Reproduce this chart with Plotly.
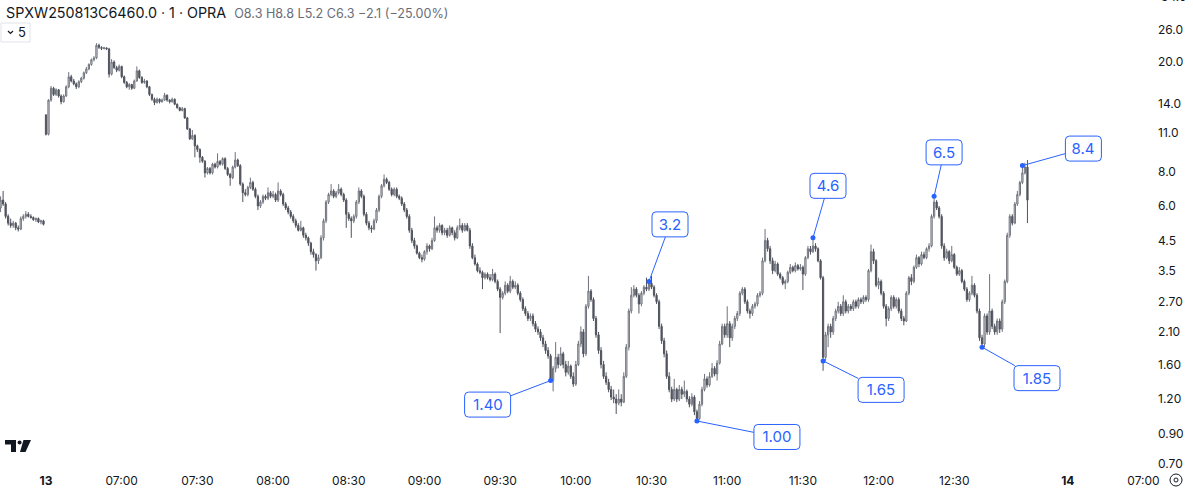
import math
import plotly.graph_objects as go

# ---------------- data (1-minute bars, index 0 = 06:30 on the 13th) ----------------
bar_index = list(range(-18, 390))

open_ = [
    5.9, 6.3, 6.1, 5.5, 5.2, 5.1, 5.2, 5.0, 4.95, 5.4, 5.5, 5.6, 5.5, 5.45, 5.35, 5.4, 5.25, 5.3,
    12.8, 10.9, 14.5, 16.0, 15.2, 15.8, 15.0, 14.3, 15.0, 16.2,
    17.6, 17.0, 16.6, 16.2, 16.9, 17.4, 18.2, 18.8, 19.5, 20.3,
    20.6, 22.9, 22.5, 22.3, 22.4, 22.2, 18.0, 19.9, 19.0, 18.6,
    19.2, 17.6, 16.8, 16.2, 16.5, 16.0, 17.0, 18.5, 17.5, 16.8,
    17.0, 16.2, 15.2, 14.6, 14.2, 14.6, 14.3, 14.5, 15.1, 14.5,
    14.3, 14.6, 14.0, 13.6, 13.3, 13.5, 12.5, 11.4, 10.5, 10.8,
    9.9, 9.6, 9.0, 8.7, 7.9, 8.2, 7.9, 8.5, 8.3, 8.7,
    8.5, 8.9, 8.2, 7.8, 7.6, 8.3, 8.8, 8.4, 7.2, 6.7,
    6.6, 7.0, 7.3, 6.9, 6.5, 6.0, 6.2, 6.5, 6.4, 6.7,
    6.5, 6.6, 6.3, 6.8, 6.6, 6.1, 5.9, 5.7, 5.5, 5.3,
    5.1, 4.9, 5.0, 4.7, 4.6, 4.4, 4.1, 4.0, 3.8, 3.9,
    4.6, 5.3, 6.2, 6.6, 6.8, 6.5, 6.7, 6.9, 6.6, 6.3,
    5.6, 5.4, 5.3, 5.5, 6.2, 6.8, 6.5, 5.6, 5.2, 5.0,
    4.95, 5.3, 5.8, 6.5, 7.1, 7.5, 7.3, 6.9, 6.6, 6.9,
    6.5, 6.4, 6.1, 5.8, 5.5, 4.9, 4.5, 4.3, 4.05, 3.9,
    3.85, 4.1, 4.3, 4.2, 4.5, 5.0, 4.9, 5.1, 4.8, 4.9,
    4.7, 5.0, 4.8, 4.6, 5.0, 5.1, 4.9, 5.1, 4.9, 4.3,
    3.9, 3.7, 3.5, 3.45, 3.3, 3.4, 3.3, 3.25, 3.4, 3.2,
    3.0, 2.8, 2.9, 3.1, 2.95, 3.2, 3.05, 3.1, 2.9, 2.75,
    2.55, 2.45, 2.35, 2.4, 2.25, 2.15, 2.1, 2.0, 1.9, 1.8,
    1.72, 1.4, 1.55, 1.7, 1.6, 1.75, 1.6, 1.5, 1.58, 1.45,
    1.36, 1.6, 1.9, 2.1, 1.75, 2.6, 2.95, 2.75, 2.35, 2.05,
    1.8, 1.6, 1.45, 1.38, 1.3, 1.22, 1.2, 1.16, 1.2, 1.17,
    1.45, 1.85, 2.5, 2.85, 3.0, 2.85, 2.65, 2.9, 3.05, 3.0,
    3.15, 3.05, 2.85, 2.7, 2.2, 1.95, 1.75, 1.45, 1.3, 1.2,
    1.3, 1.2, 1.3, 1.25, 1.28, 1.2, 1.15, 1.22, 1.08, 1.02,
    1.15, 1.3, 1.42, 1.35, 1.45, 1.55, 1.48, 1.62, 1.9, 2.2,
    2.05, 2.25, 2.0, 2.2, 2.35, 2.45, 2.9, 3.0, 2.7, 2.5,
    2.45, 2.6, 2.65, 2.85, 2.9, 3.8, 4.5, 4.2, 3.8, 3.5,
    3.7, 3.4, 3.3, 3.15, 3.2, 3.45, 3.6, 3.5, 3.65, 3.55,
    3.6, 3.4, 3.9, 4.2, 4.1, 4.3, 4.2, 3.8, 3.3, 1.7,
    2.05, 2.2, 2.1, 2.35, 2.5, 2.6, 2.45, 2.7, 2.5, 2.6,
    2.55, 2.7, 2.6, 2.75, 2.7, 2.8, 2.75, 3.5, 4.1, 3.8,
    3.1, 3.2, 2.9, 2.6, 2.35, 2.55, 2.8, 2.6, 2.75, 2.5,
    2.35, 2.3, 2.9, 3.3, 3.2, 3.6, 3.9, 3.7, 4.0, 3.9,
    4.2, 4.3, 5.5, 6.2, 5.9, 5.5, 4.3, 3.9, 4.1, 3.8,
    4.0, 3.6, 3.4, 3.5, 3.2, 3.0, 2.75, 2.9, 3.1, 2.85,
    2.5, 2.0, 1.9, 2.4, 2.1, 2.5, 2.2, 2.1, 2.3, 2.15,
    2.7, 3.2, 4.7, 5.5, 5.2, 6.1, 6.6, 7.3, 7.9, 8.3,
]

high = [
    6.5, 6.8, 6.2, 5.6, 5.4, 5.3, 5.25, 5.1, 5.5, 5.6, 5.75, 5.7, 5.6, 5.5, 5.45, 5.45, 5.35, 5.35,
    12.9, 14.6, 16.3, 16.2, 16.0, 15.9, 15.2, 15.2, 16.4, 18.3,
    17.9, 17.3, 16.8, 17.1, 17.6, 18.4, 19.1, 19.7, 20.5, 20.9,
    23.3, 23.2, 22.7, 22.6, 22.5, 22.4, 20.4, 20.2, 19.3, 19.5,
    19.3, 17.8, 17.0, 16.7, 16.6, 17.2, 19.2, 18.7, 17.7, 17.3,
    17.1, 16.3, 15.3, 14.8, 14.8, 14.7, 14.7, 15.4, 15.2, 14.6,
    14.8, 14.7, 14.1, 13.7, 13.7, 13.6, 12.6, 11.5, 11.3, 10.9,
    10.0, 9.7, 9.1, 8.8, 8.3, 8.3, 8.6, 8.6, 9.3, 8.8,
    9.0, 9.0, 8.3, 7.9, 8.4, 9.4, 8.9, 8.5, 7.3, 6.9,
    7.1, 7.6, 7.4, 7.0, 6.6, 6.3, 6.6, 6.6, 7.0, 6.8,
    6.8, 6.7, 7.3, 6.9, 6.7, 6.2, 6.0, 5.8, 5.6, 5.4,
    5.2, 5.3, 5.05, 4.8, 4.65, 4.45, 4.2, 4.05, 4.0, 4.7,
    5.4, 6.3, 6.7, 7.2, 6.9, 6.8, 7.2, 7.0, 6.7, 6.4,
    5.7, 5.5, 5.6, 6.3, 7.0, 6.9, 6.6, 5.7, 5.3, 5.1,
    5.4, 5.9, 6.6, 7.2, 7.8, 7.6, 7.4, 7.0, 7.0, 7.0,
    6.6, 6.5, 6.2, 5.9, 5.6, 5.0, 4.6, 4.35, 4.1, 4.0,
    4.15, 4.4, 4.35, 4.6, 5.5, 5.1, 5.2, 5.15, 5.0, 5.0,
    5.1, 5.05, 4.9, 5.1, 5.4, 5.2, 5.2, 5.2, 5.0, 4.4,
    4.0, 3.75, 3.6, 3.5, 3.45, 3.45, 3.4, 3.55, 3.45, 3.25,
    3.05, 2.95, 3.2, 3.15, 3.35, 3.25, 3.2, 3.15, 2.95, 2.8,
    2.6, 2.5, 2.45, 2.45, 2.3, 2.2, 2.15, 2.05, 1.95, 1.85,
    1.75, 1.58, 1.93, 1.75, 1.85, 1.78, 1.65, 1.65, 1.6, 1.5,
    1.65, 1.95, 2.2, 2.15, 2.65, 3.35, 3.0, 2.8, 2.4, 2.1,
    1.85, 1.65, 1.5, 1.42, 1.34, 1.3, 1.25, 1.3, 1.25, 1.5,
    1.9, 2.55, 3.05, 3.1, 3.05, 2.9, 2.95, 3.1, 3.3, 3.2,
    3.35, 3.1, 2.9, 2.75, 2.25, 2.0, 1.8, 1.5, 1.33, 1.42,
    1.32, 1.35, 1.33, 1.4, 1.3, 1.23, 1.26, 1.24, 1.1, 1.18,
    1.33, 1.48, 1.45, 1.5, 1.62, 1.58, 1.66, 1.95, 2.25, 2.25,
    2.6, 2.3, 2.25, 2.4, 2.5, 2.95, 3.05, 3.05, 2.75, 2.55,
    2.65, 2.7, 2.9, 2.95, 3.9, 4.95, 4.6, 4.3, 3.9, 3.8,
    3.75, 3.45, 3.35, 3.25, 3.5, 3.7, 3.65, 3.75, 3.7, 3.7,
    3.65, 3.95, 4.3, 4.3, 4.6, 4.4, 4.25, 3.85, 3.35, 2.1,
    2.25, 2.25, 2.4, 2.55, 2.7, 2.65, 2.85, 2.75, 2.65, 2.65,
    2.75, 2.75, 2.8, 2.8, 2.85, 2.85, 3.55, 4.35, 4.2, 3.85,
    3.3, 3.25, 2.95, 2.65, 2.6, 2.85, 2.85, 2.8, 2.8, 2.55,
    2.4, 2.95, 3.35, 3.4, 3.65, 4.0, 3.95, 4.1, 4.1, 4.25,
    4.4, 5.6, 6.5, 6.3, 6.0, 5.6, 4.4, 4.2, 4.15, 4.3,
    4.05, 3.65, 3.6, 3.55, 3.25, 3.05, 2.95, 3.35, 3.15, 2.9,
    2.55, 2.05, 2.45, 2.45, 3.4, 2.55, 2.25, 2.35, 2.35, 2.75,
    3.25, 4.8, 5.6, 5.6, 6.2, 6.8, 7.4, 8.4, 8.6, 8.8,
]

low = [
    5.7, 6.0, 5.4, 5.1, 5.0, 5.0, 4.9, 4.85, 4.9, 5.3, 5.4, 5.45, 5.4, 5.3, 5.25, 5.2, 5.15, 5.1,
    10.8, 10.8, 14.3, 15.0, 15.0, 14.8, 14.0, 14.2, 14.9, 16.0,
    16.8, 16.4, 15.9, 16.0, 16.7, 17.2, 18.0, 18.6, 19.3, 20.0,
    20.4, 22.2, 22.0, 22.1, 22.0, 17.5, 17.8, 18.8, 18.3, 18.4,
    17.4, 16.6, 16.0, 15.8, 15.8, 15.9, 16.9, 17.3, 16.6, 16.6,
    16.0, 15.0, 14.4, 13.9, 14.1, 14.1, 14.2, 14.4, 14.3, 14.1,
    14.2, 13.9, 13.5, 13.2, 13.2, 12.4, 11.3, 10.4, 10.4, 9.0,
    9.4, 8.6, 8.6, 7.6, 7.8, 7.8, 7.8, 8.2, 8.2, 8.4,
    8.4, 8.1, 7.7, 7.1, 7.5, 8.2, 8.3, 7.1, 6.2, 6.5,
    6.5, 6.9, 6.8, 6.4, 5.8, 5.9, 6.1, 6.3, 6.3, 6.4,
    6.4, 6.2, 6.2, 6.5, 6.0, 5.8, 5.6, 5.4, 5.2, 5.0,
    4.85, 4.85, 4.6, 4.5, 4.3, 4.0, 3.9, 3.5, 3.7, 3.85,
    4.5, 5.2, 6.1, 6.5, 6.4, 6.4, 6.6, 6.5, 6.2, 5.0,
    5.3, 4.6, 5.2, 5.4, 6.1, 6.4, 5.5, 5.1, 4.9, 4.8,
    4.9, 5.2, 5.7, 6.4, 7.0, 7.2, 6.8, 6.5, 6.5, 6.4,
    6.3, 6.0, 5.7, 5.4, 4.8, 4.4, 4.2, 4.0, 3.85, 3.75,
    3.8, 4.0, 4.1, 4.15, 4.45, 4.8, 4.8, 4.7, 4.7, 4.6,
    4.65, 4.7, 4.5, 4.55, 4.9, 4.8, 4.85, 4.85, 4.2, 3.85,
    3.65, 3.45, 3.4, 3.0, 3.25, 3.25, 3.2, 3.2, 3.15, 2.95,
    2.08, 2.75, 2.85, 2.9, 2.9, 3.0, 3.0, 2.85, 2.7, 2.5,
    2.4, 2.3, 2.3, 2.2, 2.1, 2.05, 1.95, 1.85, 1.75, 1.68,
    1.38, 1.28, 1.5, 1.55, 1.58, 1.55, 1.45, 1.47, 1.42, 1.33,
    1.34, 1.58, 1.85, 1.7, 1.72, 2.55, 2.7, 2.3, 2.0, 1.75,
    1.55, 1.42, 1.35, 1.27, 1.19, 1.16, 1.06, 1.14, 1.13, 1.16,
    1.43, 1.8, 2.45, 2.8, 2.8, 2.45, 2.6, 2.85, 2.95, 2.95,
    3.0, 2.8, 2.65, 2.15, 1.9, 1.7, 1.42, 1.27, 1.17, 1.18,
    1.17, 1.18, 1.2, 1.22, 1.17, 1.12, 1.13, 1.05, 1.0, 1.01,
    1.13, 1.28, 1.32, 1.33, 1.43, 1.45, 1.4, 1.6, 1.88, 2.0,
    2.0, 1.85, 1.95, 2.15, 2.3, 2.4, 2.85, 2.65, 2.45, 2.35,
    2.4, 2.55, 2.6, 2.8, 2.85, 3.75, 4.1, 3.7, 3.4, 3.45,
    3.35, 3.25, 3.1, 3.0, 3.15, 3.4, 3.45, 3.45, 3.5, 3.5,
    2.98, 3.35, 3.85, 4.0, 4.05, 4.1, 3.75, 3.25, 1.52, 1.65,
    1.85, 2.0, 2.05, 2.3, 2.45, 2.4, 2.4, 2.45, 2.45, 2.5,
    2.5, 2.55, 2.55, 2.65, 2.65, 2.7, 2.7, 3.45, 3.7, 3.05,
    3.0, 2.85, 2.55, 2.2, 2.3, 2.5, 2.55, 2.55, 2.45, 2.3,
    2.22, 2.28, 2.85, 3.1, 3.15, 3.55, 3.6, 3.65, 3.85, 3.85,
    4.1, 4.25, 5.4, 5.8, 5.4, 4.2, 3.8, 3.85, 3.7, 3.75,
    3.55, 3.35, 3.35, 3.15, 2.95, 2.7, 2.7, 2.85, 2.8, 2.45,
    1.95, 1.82, 1.85, 2.05, 2.05, 2.15, 2.05, 2.05, 2.08, 2.1,
    2.65, 3.15, 4.6, 5.1, 5.15, 6.0, 6.5, 7.2, 7.8, 5.2,
]

close = [
    6.3, 6.1, 5.5, 5.2, 5.1, 5.2, 5.0, 4.95, 5.4, 5.5, 5.6, 5.5, 5.45, 5.35, 5.4, 5.25, 5.3, 5.15,
    10.9, 14.5, 16.0, 15.2, 15.8, 15.0, 14.3, 15.0, 16.2, 17.6,
    17.0, 16.6, 16.2, 16.9, 17.4, 18.2, 18.8, 19.5, 20.3, 20.6,
    22.9, 22.5, 22.3, 22.4, 22.2, 18.0, 19.9, 19.0, 18.6, 19.2,
    17.6, 16.8, 16.2, 16.5, 16.0, 17.0, 18.5, 17.5, 16.8, 17.0,
    16.2, 15.2, 14.6, 14.2, 14.6, 14.3, 14.5, 15.1, 14.5, 14.3,
    14.6, 14.0, 13.6, 13.3, 13.5, 12.5, 11.4, 10.5, 10.8, 9.9,
    9.6, 9.0, 8.7, 7.9, 8.2, 7.9, 8.5, 8.3, 8.7, 8.5,
    8.9, 8.2, 7.8, 7.6, 8.3, 8.8, 8.4, 7.2, 6.7, 6.6,
    7.0, 7.3, 6.9, 6.5, 6.0, 6.2, 6.5, 6.4, 6.7, 6.5,
    6.6, 6.3, 6.8, 6.6, 6.1, 5.9, 5.7, 5.5, 5.3, 5.1,
    4.9, 5.0, 4.7, 4.6, 4.4, 4.1, 4.0, 3.8, 3.9, 4.6,
    5.3, 6.2, 6.6, 6.8, 6.5, 6.7, 6.9, 6.6, 6.3, 5.6,
    5.4, 5.3, 5.5, 6.2, 6.8, 6.5, 5.6, 5.2, 5.0, 4.95,
    5.3, 5.8, 6.5, 7.1, 7.5, 7.3, 6.9, 6.6, 6.9, 6.5,
    6.4, 6.1, 5.8, 5.5, 4.9, 4.5, 4.3, 4.05, 3.9, 3.85,
    4.1, 4.3, 4.2, 4.5, 5.0, 4.9, 5.1, 4.8, 4.9, 4.7,
    5.0, 4.8, 4.6, 5.0, 5.1, 4.9, 5.1, 4.9, 4.3, 3.9,
    3.7, 3.5, 3.45, 3.3, 3.4, 3.3, 3.25, 3.4, 3.2, 3.0,
    2.8, 2.9, 3.1, 2.95, 3.2, 3.05, 3.1, 2.9, 2.75, 2.55,
    2.45, 2.35, 2.4, 2.25, 2.15, 2.1, 2.0, 1.9, 1.8, 1.72,
    1.4, 1.55, 1.7, 1.6, 1.75, 1.6, 1.5, 1.58, 1.45, 1.36,
    1.6, 1.9, 2.1, 1.75, 2.6, 2.95, 2.75, 2.35, 2.05, 1.8,
    1.6, 1.45, 1.38, 1.3, 1.22, 1.2, 1.16, 1.2, 1.17, 1.45,
    1.85, 2.5, 2.85, 3.0, 2.85, 2.65, 2.9, 3.05, 3.0, 3.15,
    3.05, 2.85, 2.7, 2.2, 1.95, 1.75, 1.45, 1.3, 1.2, 1.3,
    1.2, 1.3, 1.25, 1.28, 1.2, 1.15, 1.22, 1.08, 1.02, 1.15,
    1.3, 1.42, 1.35, 1.45, 1.55, 1.48, 1.62, 1.9, 2.2, 2.05,
    2.25, 2.0, 2.2, 2.35, 2.45, 2.9, 3.0, 2.7, 2.5, 2.45,
    2.6, 2.65, 2.85, 2.9, 3.8, 4.5, 4.2, 3.8, 3.5, 3.7,
    3.4, 3.3, 3.15, 3.2, 3.45, 3.6, 3.5, 3.65, 3.55, 3.6,
    3.4, 3.9, 4.2, 4.1, 4.3, 4.2, 3.8, 3.3, 1.7, 2.05,
    2.2, 2.1, 2.35, 2.5, 2.6, 2.45, 2.7, 2.5, 2.6, 2.55,
    2.7, 2.6, 2.75, 2.7, 2.8, 2.75, 3.5, 4.1, 3.8, 3.1,
    3.2, 2.9, 2.6, 2.35, 2.55, 2.8, 2.6, 2.75, 2.5, 2.35,
    2.3, 2.9, 3.3, 3.2, 3.6, 3.9, 3.7, 4.0, 3.9, 4.2,
    4.3, 5.5, 6.2, 5.9, 5.5, 4.3, 3.9, 4.1, 3.8, 4.0,
    3.6, 3.4, 3.5, 3.2, 3.0, 2.75, 2.9, 3.1, 2.85, 2.5,
    2.0, 1.9, 2.4, 2.1, 2.5, 2.2, 2.1, 2.3, 2.15, 2.7,
    3.2, 4.7, 5.5, 5.2, 6.1, 6.6, 7.3, 7.9, 8.3, 6.3,
]

# time-axis ticks (bar index -> label)
time_tick_index = [0, 30, 60, 90, 120, 150, 180, 210, 240, 270, 300, 330, 360, 405, 435]
time_tick_text = ["<b>13</b>", "07:00", "07:30", "08:00", "08:30", "09:00", "09:30", "10:00",
                  "10:30", "11:00", "11:30", "12:00", "12:30", "<b>14</b>", "07:00"]

# price-axis ticks
price_ticks = [0.70, 0.90, 1.20, 1.60, 2.10, 2.70, 3.5, 4.5, 6.0, 8.0, 11.0, 14.0, 20.0, 26.0]
price_tick_text = ["0.70", "0.90", "1.20", "1.60", "2.10", "2.70", "3.5", "4.5", "6.0", "8.0",
                   "11.0", "14.0", "20.0", "26.0"]
top_cut_label = "34.0"

# price-label callouts
callout_index = [200, 239, 258, 304, 308, 352, 371, 387]
callout_price = [1.40, 3.2, 1.00, 4.6, 1.65, 6.5, 1.85, 8.4]
callout_text = ["1.40", "3.2", "1.00", "4.6", "1.65", "6.5", "1.85", "8.4"]
callout_dx = [-63, 21, 80, 15, 58, 10, 55, 61]
callout_dy = [24, -57, 16, -52, 29, -44, 31, -17]

# ---------------- figure ----------------
W, H = 1193, 489
ML, MR, MT, MB = 0, 37, 0, 21
PW, PH = W - ML - MR, H - MT - MB
px_per_bar = 2.523
x_left = -46 / px_per_bar
x_right = x_left + PW / px_per_bar
y_top = math.log10(26 * math.exp(30 / 120))
y_bot = math.log10(26 * math.exp(-(PH - 30) / 120))

FONT = "Inter, Roboto, 'Open Sans', sans-serif"
BLUE = "#2962ff"

fig = go.Figure()
fig.add_trace(go.Candlestick(
    x=bar_index, open=open_, high=high, low=low, close=close,
    increasing=dict(line=dict(color="#6f727c", width=1), fillcolor="#e6e7ea"),
    decreasing=dict(line=dict(color="#50535d", width=1), fillcolor="#50535d"),
    whiskerwidth=0, hoverinfo="skip", showlegend=False,
))
fig.add_trace(go.Scatter(
    x=callout_index, y=callout_price, mode="markers",
    marker=dict(color=BLUE, size=5), hoverinfo="skip", showlegend=False,
))


def rounded_box(cx, cy, hw, hh, r):
    # pixel offsets relative to anchor, y positive upward
    return (f"M {cx - hw + r} {cy + hh} L {cx + hw - r} {cy + hh} "
            f"Q {cx + hw} {cy + hh} {cx + hw} {cy + hh - r} L {cx + hw} {cy - hh + r} "
            f"Q {cx + hw} {cy - hh} {cx + hw - r} {cy - hh} L {cx - hw + r} {cy - hh} "
            f"Q {cx - hw} {cy - hh} {cx - hw} {cy - hh + r} L {cx - hw} {cy + hh - r} "
            f"Q {cx - hw} {cy + hh} {cx - hw + r} {cy + hh} Z")


annotations = []
shapes = []
for idx, pr, txt, dx, dy in zip(callout_index, callout_price, callout_text, callout_dx, callout_dy):
    box_w = 36 if len(txt) == 3 else 46
    box_h = 25
    annotations.append(dict(
        x=idx, y=math.log10(pr), xref="x", yref="y", text=txt,
        showarrow=True, arrowhead=0, arrowwidth=1, arrowcolor=BLUE,
        ax=dx, ay=dy, standoff=0, startstandoff=0,
        font=dict(family=FONT, size=15, color=BLUE),
        bgcolor="rgba(0,0,0,0)", borderwidth=0, borderpad=0,
        width=box_w, height=box_h, align="center", valign="middle",
    ))
    shapes.append(dict(
        type="path", xref="x", yref="y", xsizemode="pixel", ysizemode="pixel",
        xanchor=idx, yanchor=pr,
        path=rounded_box(dx, -dy, box_w / 2, box_h / 2, 4),
        line=dict(color=BLUE, width=1), fillcolor="white", layer="above",
    ))


def px(x):
    return x / PW


def py(y):
    return 1 - y / PH


# header
annotations.append(dict(
    xref="paper", yref="paper", x=px(4), y=py(2), xanchor="left", yanchor="top",
    showarrow=False,
    text=("SPXW250813C6460.0 · 1 · OPRA  "
          "<span style='font-size:12.6px;color:#6a6d78'>O8.3 H8.8 L5.2 C6.3 −2.1 (−25.00%)</span>"),
    font=dict(family=FONT, size=14.3, color="#131722"),
))
annotations.append(dict(
    xref="paper", yref="paper", x=px(22), y=py(32.5), xanchor="center", yanchor="middle",
    showarrow=False, text="5", font=dict(family=FONT, size=13, color="#131722"),
))
annotations.append(dict(
    xref="paper", yref="paper", x=px(1159), y=py(-4), xanchor="left", yanchor="middle",
    showarrow=False, text=top_cut_label, font=dict(family=FONT, size=12, color="#131722"),
))

shapes += [
    # "5" collapse box
    dict(type="rect", xref="paper", yref="paper", x0=px(1), x1=px(30), y0=py(42), y1=py(23),
         line=dict(color="#e0e3eb", width=1), fillcolor="rgba(0,0,0,0)", layer="above"),
    dict(type="path", xref="paper", yref="paper",
         path=f"M {px(8)} {py(31)} L {px(10.5)} {py(33.5)} L {px(13)} {py(31)}",
         line=dict(color="#131722", width=1.2), layer="above"),
    # TradingView logo
    dict(type="path", xref="paper", yref="paper",
         path=(f"M {px(5)} {py(440)} L {px(16)} {py(440)} L {px(16)} {py(452)} L {px(11)} {py(452)} "
               f"L {px(11)} {py(444.5)} L {px(5)} {py(444.5)} Z"),
         fillcolor="#131722", line=dict(width=0), layer="above"),
    dict(type="circle", xref="paper", yref="paper", x0=px(17.6), x1=px(21.6), y0=py(444.5), y1=py(440.5),
         fillcolor="#131722", line=dict(width=0), layer="above"),
    dict(type="path", xref="paper", yref="paper",
         path=(f"M {px(23.5)} {py(440)} L {px(31)} {py(440)} L {px(25.5)} {py(452)} "
               f"L {px(20)} {py(452)} Z"),
         fillcolor="#131722", line=dict(width=0), layer="above"),
    # settings icon (bottom right)
    dict(type="circle", xref="paper", yref="paper", x0=px(1170), x1=px(1182), y0=py(486), y1=py(474),
         line=dict(color="#131722", width=1), fillcolor="rgba(0,0,0,0)", layer="above"),
    dict(type="circle", xref="paper", yref="paper", x0=px(1174), x1=px(1178), y0=py(482), y1=py(478),
         line=dict(color="#131722", width=1), fillcolor="rgba(0,0,0,0)", layer="above"),
]

fig.update_layout(
    width=W, height=H,
    margin=dict(l=ML, r=MR, t=MT, b=MB, pad=0),
    paper_bgcolor="white", plot_bgcolor="white",
    font=dict(family=FONT, size=12, color="#131722"),
    showlegend=False,
    annotations=annotations,
    shapes=shapes,
    xaxis=dict(
        range=[x_left, x_right], rangeslider=dict(visible=False),
        tickmode="array", tickvals=time_tick_index, ticktext=time_tick_text,
        showgrid=False, zeroline=False, showline=False, ticks="",
        ticklabelstandoff=4,
        tickfont=dict(family=FONT, size=12, color="#131722"),
        fixedrange=True,
    ),
    yaxis=dict(
        type="log", range=[y_bot, y_top], side="right",
        tickmode="array", tickvals=price_ticks, ticktext=price_tick_text,
        showgrid=False, zeroline=False, showline=False, ticks="",
        ticklabelstandoff=1,
        tickfont=dict(family=FONT, size=12, color="#131722"),
        fixedrange=True,
    ),
)

fig.write_html(
    "out.html",
    config={"displayModeBar": False},
    post_script="document.body.style.margin='0';document.body.style.overflow='hidden';",
)
